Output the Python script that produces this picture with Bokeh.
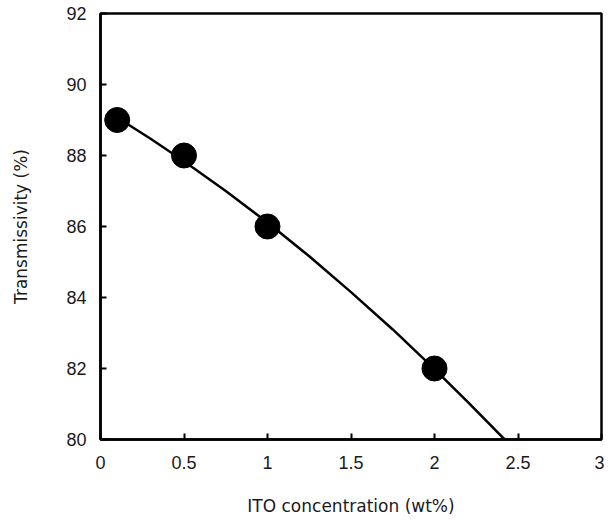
from bokeh.plotting import figure
from bokeh.embed import file_html
from bokeh.resources import INLINE
from bokeh.models import FixedTicker, Range1d

# Measured points
conc = [0.1, 0.5, 1.0, 2.0]
trans = [89.0, 88.0, 86.0, 82.0]

# Trend curve
curve_x = [0.1, 0.3, 0.5, 0.75, 1.0, 1.25, 1.5, 1.75, 2.0, 2.2, 2.42]
curve_y = [89.07, 88.47, 87.84, 87.00, 86.11, 85.16, 84.15, 83.10, 81.98, 81.05, 80.0]

x_ticks = [0, 0.5, 1, 1.5, 2, 2.5, 3]
y_ticks = [80, 82, 84, 86, 88, 90, 92]
x_tick_labels = ["0", "0.5", "1", "1.5", "2", "2.5", "3"]

p = figure(width=604, height=518, output_backend="svg", toolbar_location=None,
           x_range=Range1d(0, 3), y_range=Range1d(80, 92),
           min_border_left=100, min_border_right=3, min_border_top=13, min_border_bottom=78)

p.line(curve_x, curve_y, line_color="black", line_width=2.5)
p.scatter(conc, trans, size=25, fill_color="black", line_color="black")

p.xgrid.visible = False
p.ygrid.visible = False
p.outline_line_color = "black"
p.outline_line_width = 2.5
p.outline_line_alpha = 1.0

tick_font = "Liberation Sans"
label_font = "DejaVu Sans"
for ax in (p.xaxis[0], p.yaxis[0]):
    ax.axis_line_width = 2.5
    ax.axis_line_color = "black"
    ax.major_tick_in = 6
    ax.major_tick_out = 0
    ax.minor_tick_line_color = None
    ax.major_tick_line_width = 2
    ax.major_tick_line_color = "black"
    ax.major_label_text_font = tick_font
    ax.major_label_text_font_size = "18px"
    ax.major_label_text_color = "#1a1a1a"
    ax.axis_label_text_font = label_font
    ax.axis_label_text_font_size = "17px"
    ax.axis_label_text_font_style = "normal"
    ax.axis_label_text_color = "#1a1a1a"

p.xaxis.ticker = FixedTicker(ticks=x_ticks)
p.yaxis.ticker = FixedTicker(ticks=y_ticks)
p.xaxis.major_label_overrides = dict(zip(x_ticks, x_tick_labels))
p.xaxis.major_label_standoff = 16
p.yaxis.major_label_standoff = 14
p.xaxis.axis_label = "ITO concentration (wt%)"
p.yaxis.axis_label = "Transmissivity (%)"
p.xaxis.axis_label_standoff = 24
p.yaxis.axis_label_standoff = 32

open("out.html", "w").write(file_html(p, INLINE))
